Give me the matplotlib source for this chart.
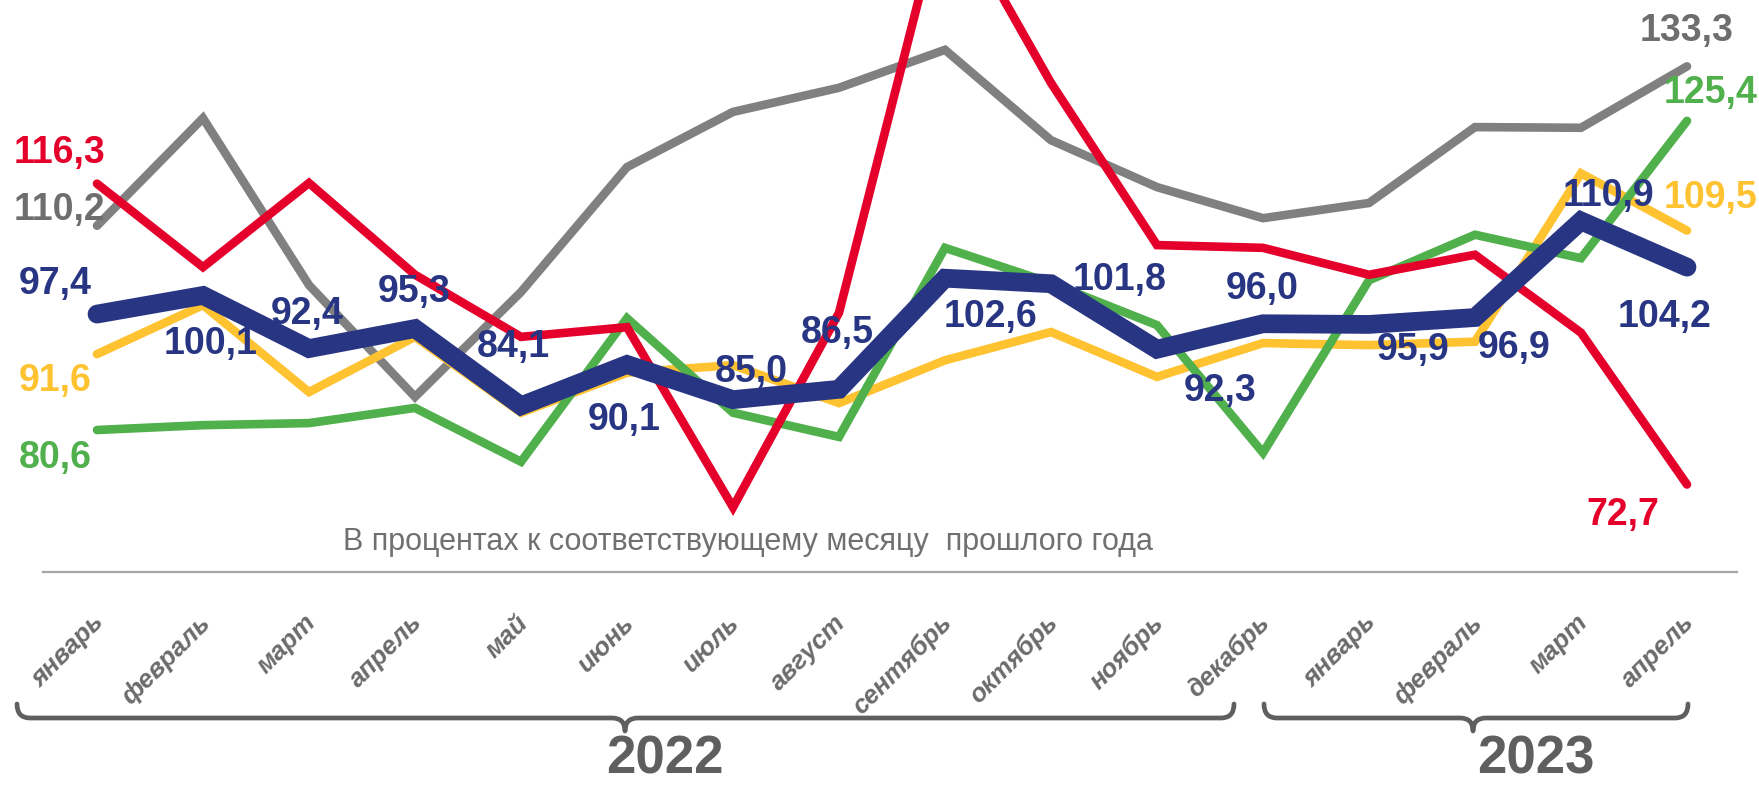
import numpy as np
import matplotlib
matplotlib.use("Agg")
import matplotlib.pyplot as plt
from matplotlib import font_manager
from matplotlib.path import Path
from matplotlib.patches import PathPatch
from matplotlib.transforms import blended_transform_factory

## monthly values, % to same month of previous year
months = ['январь', 'февраль', 'март', 'апрель', 'май', 'июнь', 'июль', 'август',
          'сентябрь', 'октябрь', 'ноябрь', 'декабрь',
          'январь', 'февраль', 'март', 'апрель']
years = ['2022', '2023']

blue = [97.4, 100.1, 92.4, 95.3, 84.1, 90.1, 85.0, 86.5,
        102.6, 101.8, 92.3, 96.0, 95.9, 96.9, 110.9, 104.2]
red = [116.3, 104.2, 116.4, 103.1, 94.1, 95.5, 69.4, 97.6,
       158.0, 130.9, 107.4, 107.0, 103.1, 106.0, 94.7, 72.7]
gray = [110.2, 125.8, 101.6, 85.4, 100.6, 118.7, 126.7, 130.2,
        135.7, 122.6, 115.8, 111.3, 113.5, 124.5, 124.4, 133.3]
yellow = [91.6, 98.7, 86.1, 94.1, 83.1, 88.9, 90.0, 84.5,
          90.7, 94.8, 88.3, 93.2, 92.9, 93.4, 117.8, 109.5]
green = [80.6, 81.3, 81.6, 83.8, 76.0, 96.8, 83.1, 79.6,
         107.0, 101.9, 95.8, 77.3, 102.3, 108.9, 105.5, 125.4]

W, H = 1759, 786
C_RED = '#E4002B'
C_GRAY = '#808080'
C_GRAYTXT = '#6E6E6E'
C_BLUE = '#283583'
C_YEL = '#FFC230'
C_GRN = '#50B04C'
C_DARK = '#5F5F5F'

plt.rcParams['font.family'] = ['Liberation Sans', 'DejaVu Sans']

fig = plt.figure(figsize=(W / 100, H / 100), dpi=100)
ax = fig.add_axes([0, 0, 1, 1])
ax.axis('off')
x = np.arange(len(months))
ax.set_xlim(-97 / 106., 15 + (W - 1687) / 106.)
ax.set_ylim(80.6 - (H - 430) / 6.9, 80.6 + 430 / 6.9)

lw = 6.2
ax.plot(x, gray, color=C_GRAY, lw=lw, solid_capstyle='round', solid_joinstyle='miter', zorder=2)
ax.plot(x, yellow, color=C_YEL, lw=lw, solid_capstyle='round', solid_joinstyle='miter', zorder=3)
ax.plot(x, green, color=C_GRN, lw=lw, solid_capstyle='round', solid_joinstyle='miter', zorder=4)
ax.plot(x, red, color=C_RED, lw=lw, solid_capstyle='round', solid_joinstyle='miter', zorder=5)
ax.plot(x, blue, color=C_BLUE, lw=13.5, solid_capstyle='round', solid_joinstyle='miter', zorder=6)

def fmt(v):
    return ('%.1f' % v).replace('.', ',')

# label offsets in pixels from the point
blue_off = [(-42, 34), (8, -45), (-2, 39), (-1, 41), (-8, 63), (-3, -52), (18, 32), (-2, 60),
            (45, -35), (69, 8), (63, -38), (-1, 39), (44, -22), (39, -26), (27, 29), (-22, -46)]
lab_kw = dict(textcoords='offset pixels', ha='center', va='center',
              fontsize=27, fontweight='bold', zorder=10)
sh = -4
for i, v in enumerate(blue):
    ax.annotate(fmt(v), (x[i], v), xytext=(blue_off[i][0], blue_off[i][1] + sh),
                color=C_BLUE, **lab_kw)

ends = [(red, C_RED, (-38, 35), (-64, -26)),
        (gray, C_GRAYTXT, (-38, 20), (0, 39)),
        (yellow, C_YEL, (-42, -23), (23, 37)),
        (green, C_GRN, (-42, -24), (24, 32))]
for s, c, o0, o1 in ends:
    ax.annotate(fmt(s[0]), (x[0], s[0]), xytext=(o0[0], o0[1] + sh), color=c, **lab_kw)
    ax.annotate(fmt(s[-1]), (x[-1], s[-1]), xytext=(o1[0], o1[1] + sh), color=c, **lab_kw)

# note and separator
fig.text(748 / W, 1 - 542 / H, 'В процентах к соответствующему месяцу  прошлого года',
         ha='center', va='center', fontsize=22, color='#707070')
fig.add_artist(plt.Line2D([43 / W, 1737 / W], [1 - 572 / H] * 2,
                          transform=fig.transFigure, color='#A6A6A6', lw=1.6))

# month labels
tr = blended_transform_factory(ax.transData, fig.transFigure)
for i, m in enumerate(months):
    ax.text(x[i] + 0.03, 1 - 619 / H, m, transform=tr, rotation=45, rotation_mode='anchor',
            ha='right', va='center', fontsize=18.5, fontweight='bold', fontstyle='italic',
            color='#6B6B6B', clip_on=False)

# braces
def brace(x0, x1, xm, ytop=704, ymid=718, ytip=731, r=13):
    pts = [(x0, ytop), (x0, ymid), (x0 + r, ymid),
           (xm - r, ymid), (xm, ymid), (xm, ytip),
           (xm, ymid), (xm + r, ymid),
           (x1 - r, ymid), (x1, ymid), (x1, ytop)]
    codes = [Path.MOVETO, Path.CURVE3, Path.CURVE3,
             Path.LINETO, Path.CURVE3, Path.CURVE3,
             Path.CURVE3, Path.CURVE3,
             Path.LINETO, Path.CURVE3, Path.CURVE3]
    pts = [(px / W, 1 - py / H) for px, py in pts]
    fig.add_artist(PathPatch(Path(pts, codes), transform=fig.transFigure,
                             fill=False, ec=C_DARK, lw=3.4, capstyle='round', joinstyle='round'))

brace(17, 1234, 625)
brace(1264, 1688, 1473)

names = {f.name for f in font_manager.fontManager.ttflist}
if 'Liberation Sans Narrow' in names:
    yfam, ysize = 'Liberation Sans Narrow', 44
else:
    yfam, ysize = 'Liberation Sans', 38
for yr, xc in zip(years, [665, 1536]):
    fig.text(xc / W, 1 - 760 / H, yr, ha='center', va='center', fontsize=ysize,
             fontweight='bold', family=yfam, color=C_DARK)

fig.savefig('out.png', dpi=100)
